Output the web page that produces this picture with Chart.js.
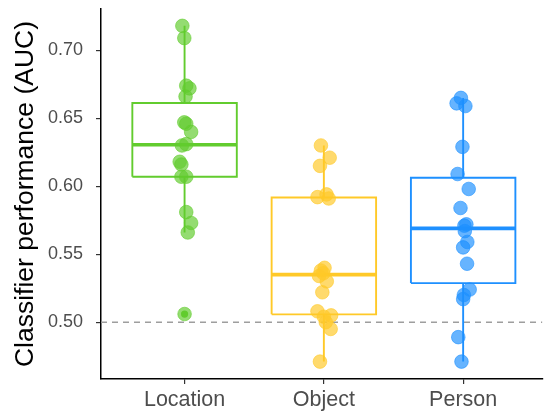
<!DOCTYPE html>
<html>
<head>
<meta charset="utf-8">
<title>Classifier performance (AUC)</title>
<script src="https://cdn.jsdelivr.net/npm/chart.js@4.4.1/dist/chart.umd.min.js"></script>
<style>
  html, body { margin: 0; padding: 0; background: #ffffff; overflow: hidden; }
  #wrap { width: 550px; height: 412px; }
</style>
</head>
<body>
<div id="wrap"><canvas id="auc" width="550" height="412"></canvas></div>
<script>
// Categories along the x axis
const categories = ['Location', 'Object', 'Person'];

// Per-subject AUC values for each classifier
const locationAUC = [0.718, 0.709, 0.674, 0.672, 0.666, 0.647, 0.646, 0.640, 0.630, 0.631,
                     0.618, 0.616, 0.607, 0.607, 0.581, 0.573, 0.566, 0.506];
const objectAUC   = [0.630, 0.621, 0.615, 0.594, 0.592, 0.591, 0.540, 0.538, 0.536, 0.534,
                     0.530, 0.522, 0.508, 0.505, 0.504, 0.500, 0.495, 0.471];
const personAUC   = [0.665, 0.661, 0.659, 0.629, 0.609, 0.598, 0.584, 0.572, 0.571, 0.567,
                     0.559, 0.555, 0.543, 0.524, 0.520, 0.517, 0.489, 0.471];

// Horizontal jitter of each point, in category units
const locationJitter = [-0.016, -0.002, 0.012, 0.035, 0.007, -0.002, 0.012, 0.047, -0.019, 0.012,
                        -0.035, -0.023, -0.023, 0.012, 0.012, 0.047, 0.023, 0.000];
const objectJitter   = [-0.021, 0.042, -0.028, 0.019, -0.046, 0.035, 0.005, -0.021, -0.004, -0.035,
                        0.021, -0.011, -0.046, 0.052, 0.000, 0.014, 0.049, -0.028];
const personJitter   = [-0.016, -0.047, 0.016, -0.005, -0.040, 0.040, -0.019, 0.023, 0.009, 0.012,
                        0.030, 0.000, 0.028, 0.047, 0.005, 0.000, -0.035, -0.012];

// Y axis tick values and the chance-level reference line
const yTicks = [0.50, 0.55, 0.60, 0.65, 0.70];
const chanceLevel = 0.5;

const groups = [
  { values: locationAUC, jitter: locationJitter, color: '#62CC2E', rgb: '98,204,46' },
  { values: objectAUC,   jitter: objectJitter,   color: '#FFC928', rgb: '255,201,40' },
  { values: personAUC,   jitter: personJitter,   color: '#1E90FF', rgb: '30,144,255' }
];

// Type-7 quantile (linear interpolation between order statistics)
function quantile(sorted, p) {
  const h = (sorted.length - 1) * p;
  const lo = Math.floor(h);
  const hi = Math.min(lo + 1, sorted.length - 1);
  return sorted[lo] + (h - lo) * (sorted[hi] - sorted[lo]);
}

function boxStats(values) {
  const s = values.slice().sort((a, b) => a - b);
  const q1 = quantile(s, 0.25), med = quantile(s, 0.5), q3 = quantile(s, 0.75);
  const iqr = q3 - q1;
  const loFence = q1 - 1.5 * iqr, hiFence = q3 + 1.5 * iqr;
  const inside = s.filter(v => v >= loFence && v <= hiFence);
  return {
    q1, med, q3,
    lo: inside[0], hi: inside[inside.length - 1],
    outliers: s.filter(v => v < loFence || v > hiFence)
  };
}

const HALF = 0.375;   // half box width in category units
const X_MIN = 0.4, X_MAX = 3.569;

const pointSets = [], outlierSets = [], medianSets = [], boxSets = [], whiskerSets = [];

groups.forEach((g, i) => {
  const cx = i + 1;
  const st = boxStats(g.values);
  const lineBase = { type: 'line', showLine: true, pointRadius: 0, fill: false, tension: 0,
                     borderColor: g.color, borderCapStyle: 'butt', borderJoinStyle: 'miter' };

  pointSets.push({
    type: 'scatter',
    data: g.values.map((v, k) => ({ x: cx + g.jitter[k], y: v })),
    backgroundColor: `rgba(${g.rgb},0.68)`,
    borderColor: `rgba(${g.rgb},0.75)`,
    borderWidth: 0.8,
    pointRadius: 6.8,
    pointHoverRadius: 6.8
  });

  outlierSets.push({
    type: 'scatter',
    data: st.outliers.map(v => ({ x: cx, y: v })),
    backgroundColor: g.color,
    borderColor: g.color,
    borderWidth: 0,
    pointRadius: 3.6
  });

  medianSets.push(Object.assign({}, lineBase, {
    data: [{ x: cx - HALF, y: st.med }, { x: cx + HALF, y: st.med }],
    borderWidth: 3.6
  }));

  boxSets.push(Object.assign({}, lineBase, {
    data: [
      { x: cx - HALF, y: st.q1 }, { x: cx + HALF, y: st.q1 },
      { x: cx + HALF, y: st.q3 }, { x: cx - HALF, y: st.q3 },
      { x: cx - HALF, y: st.q1 }
    ],
    borderWidth: 1.9
  }));

  whiskerSets.push(Object.assign({}, lineBase, {
    data: [{ x: cx, y: st.q3 }, { x: cx, y: st.hi }],
    borderWidth: 1.9
  }));
  whiskerSets.push(Object.assign({}, lineBase, {
    data: [{ x: cx, y: st.q1 }, { x: cx, y: st.lo }],
    borderWidth: 1.9
  }));
});

const chanceSet = {
  type: 'line', showLine: true, pointRadius: 0, fill: false,
  data: [{ x: X_MIN, y: chanceLevel }, { x: X_MAX, y: chanceLevel }],
  borderColor: '#9E9E9E', borderWidth: 1.4, borderDash: [6, 5]
};

// First dataset is painted last (on top)
const datasets = [].concat(pointSets, outlierSets, medianSets, boxSets, whiskerSets, [chanceSet]);

const FONT = "'Liberation Sans', Arial, Helvetica, sans-serif";

new Chart(document.getElementById('auc'), {
  type: 'scatter',
  data: { datasets },
  options: {
    responsive: false,
    animation: false,
    events: [],
    layout: { padding: { top: 9, right: 0, bottom: 0, left: 0 } },
    plugins: { legend: { display: false }, tooltip: { enabled: false } },
    scales: {
      x: {
        type: 'linear',
        min: X_MIN,
        max: X_MAX,
        afterBuildTicks: s => { s.ticks = categories.map((c, i) => ({ value: i + 1 })); },
        afterFit: s => { s.height = 33; s.paddingLeft = 0; s.paddingRight = 0; },
        ticks: {
          callback: v => categories[Math.round(v) - 1],
          font: { family: FONT, size: 21.5 },
          color: '#4D4D4D',
          padding: 3,
          maxRotation: 0,
          autoSkip: false
        },
        grid: { drawOnChartArea: false, drawTicks: true, tickLength: 5, color: '#333333', lineWidth: 1.2 },
        border: { display: true, color: '#000000', width: 1.5 }
      },
      y: {
        type: 'linear',
        min: 0.4582,
        max: 0.7304,
        afterBuildTicks: s => { s.ticks = yTicks.map(v => ({ value: v })); },
        afterFit: s => { s.width = 101; s.paddingTop = 0; s.paddingBottom = 0; },
        ticks: {
          callback: v => v.toFixed(2),
          font: { family: FONT, size: 18 },
          color: '#4D4D4D',
          padding: 13
        },
        grid: { drawOnChartArea: false, drawTicks: true, tickLength: 5, color: '#333333', lineWidth: 1.2 },
        border: { display: true, color: '#000000', width: 1.5 },
        title: {
          display: true,
          text: 'Classifier performance (AUC)',
          font: { family: FONT, size: 26.5 },
          color: '#000000',
          padding: { top: 10, bottom: 0 }
        }
      }
    }
  }
});
</script>
</body>
</html>
